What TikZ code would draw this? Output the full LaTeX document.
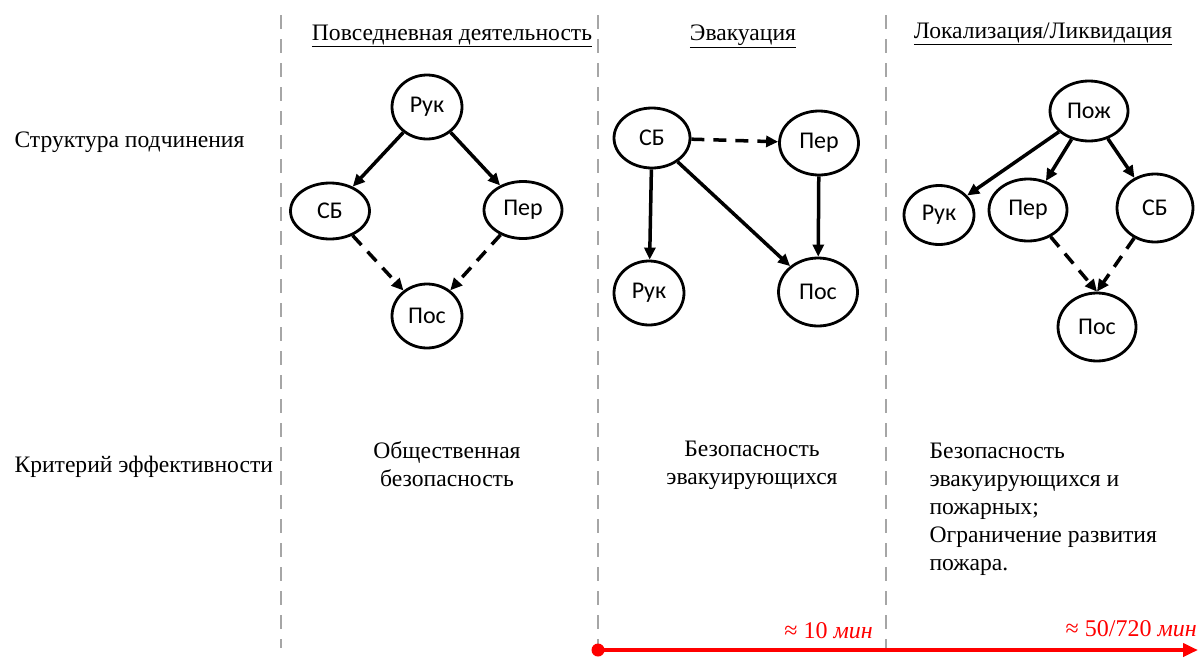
\documentclass[tikz,border=0pt]{standalone}
\usepackage{fontspec}
\setmainfont{Liberation Serif}
\newfontfamily\calfont{Carlito}
\usetikzlibrary{arrows.meta,shapes.geometric}
\begin{document}
\begin{tikzpicture}[x=1pt,y=-1pt,
  st/.style={ellipse, draw, line width=2.8pt, inner sep=0pt, font=\calfont\fontsize{24}{26}\selectfont},
  solidarr/.style={line width=3.5pt, -{Triangle[length=12pt,width=11pt]}},
  dasharr/.style={solidarr, dash pattern=on 13pt off 9pt},
  sep/.style={draw=gray!70, line width=1.6pt, dash pattern=on 14pt off 10pt},
  lbl/.style={font=\fontsize{23.6}{28}\selectfont},
  hdr/.style={font=\fontsize{23.6}{26}\selectfont},
  tl/.style={text=red, font=\fontsize{24}{26}\selectfont, inner sep=0pt}
]
\useasboundingbox (0,0) rectangle (1200,659);
% separators
\foreach \x/\n in {281/a,598/b,886/c}{
  \coordinate (\n top) at (\x,15);
  \coordinate (\n bot) at (\x,648);
  \draw[sep] (\n top) -- (\n bot);
}
% headers
\node[hdr] (h1) at (452,36) {\underline{Повседневная деятельность}};
\node[hdr] (h2) at (743,36) {\underline{Эвакуация}};
\node[hdr] (h3) at (1043,34) {\underline{Локализация/Ликвидация}};
% row labels
\node[lbl, anchor=west] (r1) at (11,142) {Структура подчинения};
\node[lbl, anchor=west] (r2) at (11,467) {Критерий эффективности};
% column 1
\node[st, minimum width=70pt, minimum height=64pt] (ruk1) at (427,107) {Рук};
\node[st, minimum width=79pt, minimum height=56pt] (sb1) at (330,211) {СБ};
\node[st, minimum width=78pt, minimum height=57pt] (per1) at (523,210) {Пер};
\node[st, minimum width=70pt, minimum height=64pt] (pos1) at (427,316) {Пос};
\draw[solidarr] (ruk1) -- (sb1);
\draw[solidarr] (ruk1) -- (per1);
\draw[dasharr] (sb1) -- (pos1);
\draw[dasharr] (per1) -- (pos1);
% column 2
\node[st, minimum width=76pt, minimum height=60pt] (sb2) at (652,138) {СБ};
\node[st, minimum width=79pt, minimum height=64pt] (per2) at (819,143) {Пер};
\node[st, minimum width=70pt, minimum height=64pt] (ruk2) at (649,293) {Рук};
\node[st, minimum width=79pt, minimum height=68pt] (pos2) at (818,292) {Пос};
\draw[dasharr] (sb2) -- (per2);
\draw[solidarr] (sb2) -- (ruk2);
\draw[solidarr] (sb2) -- (pos2);
\draw[solidarr] (per2) -- (pos2);
% column 3
\node[st, minimum width=78pt, minimum height=60pt] (poj3) at (1089,111) {Пож};
\node[st, minimum width=70pt, minimum height=59pt] (ruk3) at (939,215) {Рук};
\node[st, minimum width=78pt, minimum height=62pt] (per3) at (1028,210) {Пер};
\node[st, minimum width=76pt, minimum height=68pt] (sb3) at (1155,208) {СБ};
\node[st, minimum width=78pt, minimum height=68pt] (pos3) at (1097,327) {Пос};
\draw[solidarr] (poj3) -- (ruk3);
\draw[solidarr] (poj3) -- (per3);
\draw[solidarr] (poj3) -- (sb3);
\draw[dasharr] (per3) -- (pos3.north);
\draw[dasharr] (sb3) -- (pos3.north);
% criteria
\node[lbl, align=center] (c1) at (447,464) {Общественная\\безопасность};
\node[lbl, align=center] (c2) at (752,465) {Безопасность\\эвакуирующихся};
\node[lbl, align=left, anchor=west] (c3) at (926,509) {Безопасность\\эвакуирующихся и\\пожарных;\\Ограничение развития\\пожара.};
% timeline
\node[circle, fill=red, minimum size=13pt, inner sep=0pt] (t0) at (598,650) {};
\coordinate (t1) at (1198,650);
\draw[red, line width=4pt, -{Triangle[length=15pt,width=13pt]}] (t0.center) -- (t1);
\node[tl, anchor=base east] (l10) at (873,638) {≈ 10 \textit{мин}};
\node[tl, anchor=base east] (l50) at (1197,636) {≈ 50/720 \textit{мин}};
\end{tikzpicture}
\end{document}
